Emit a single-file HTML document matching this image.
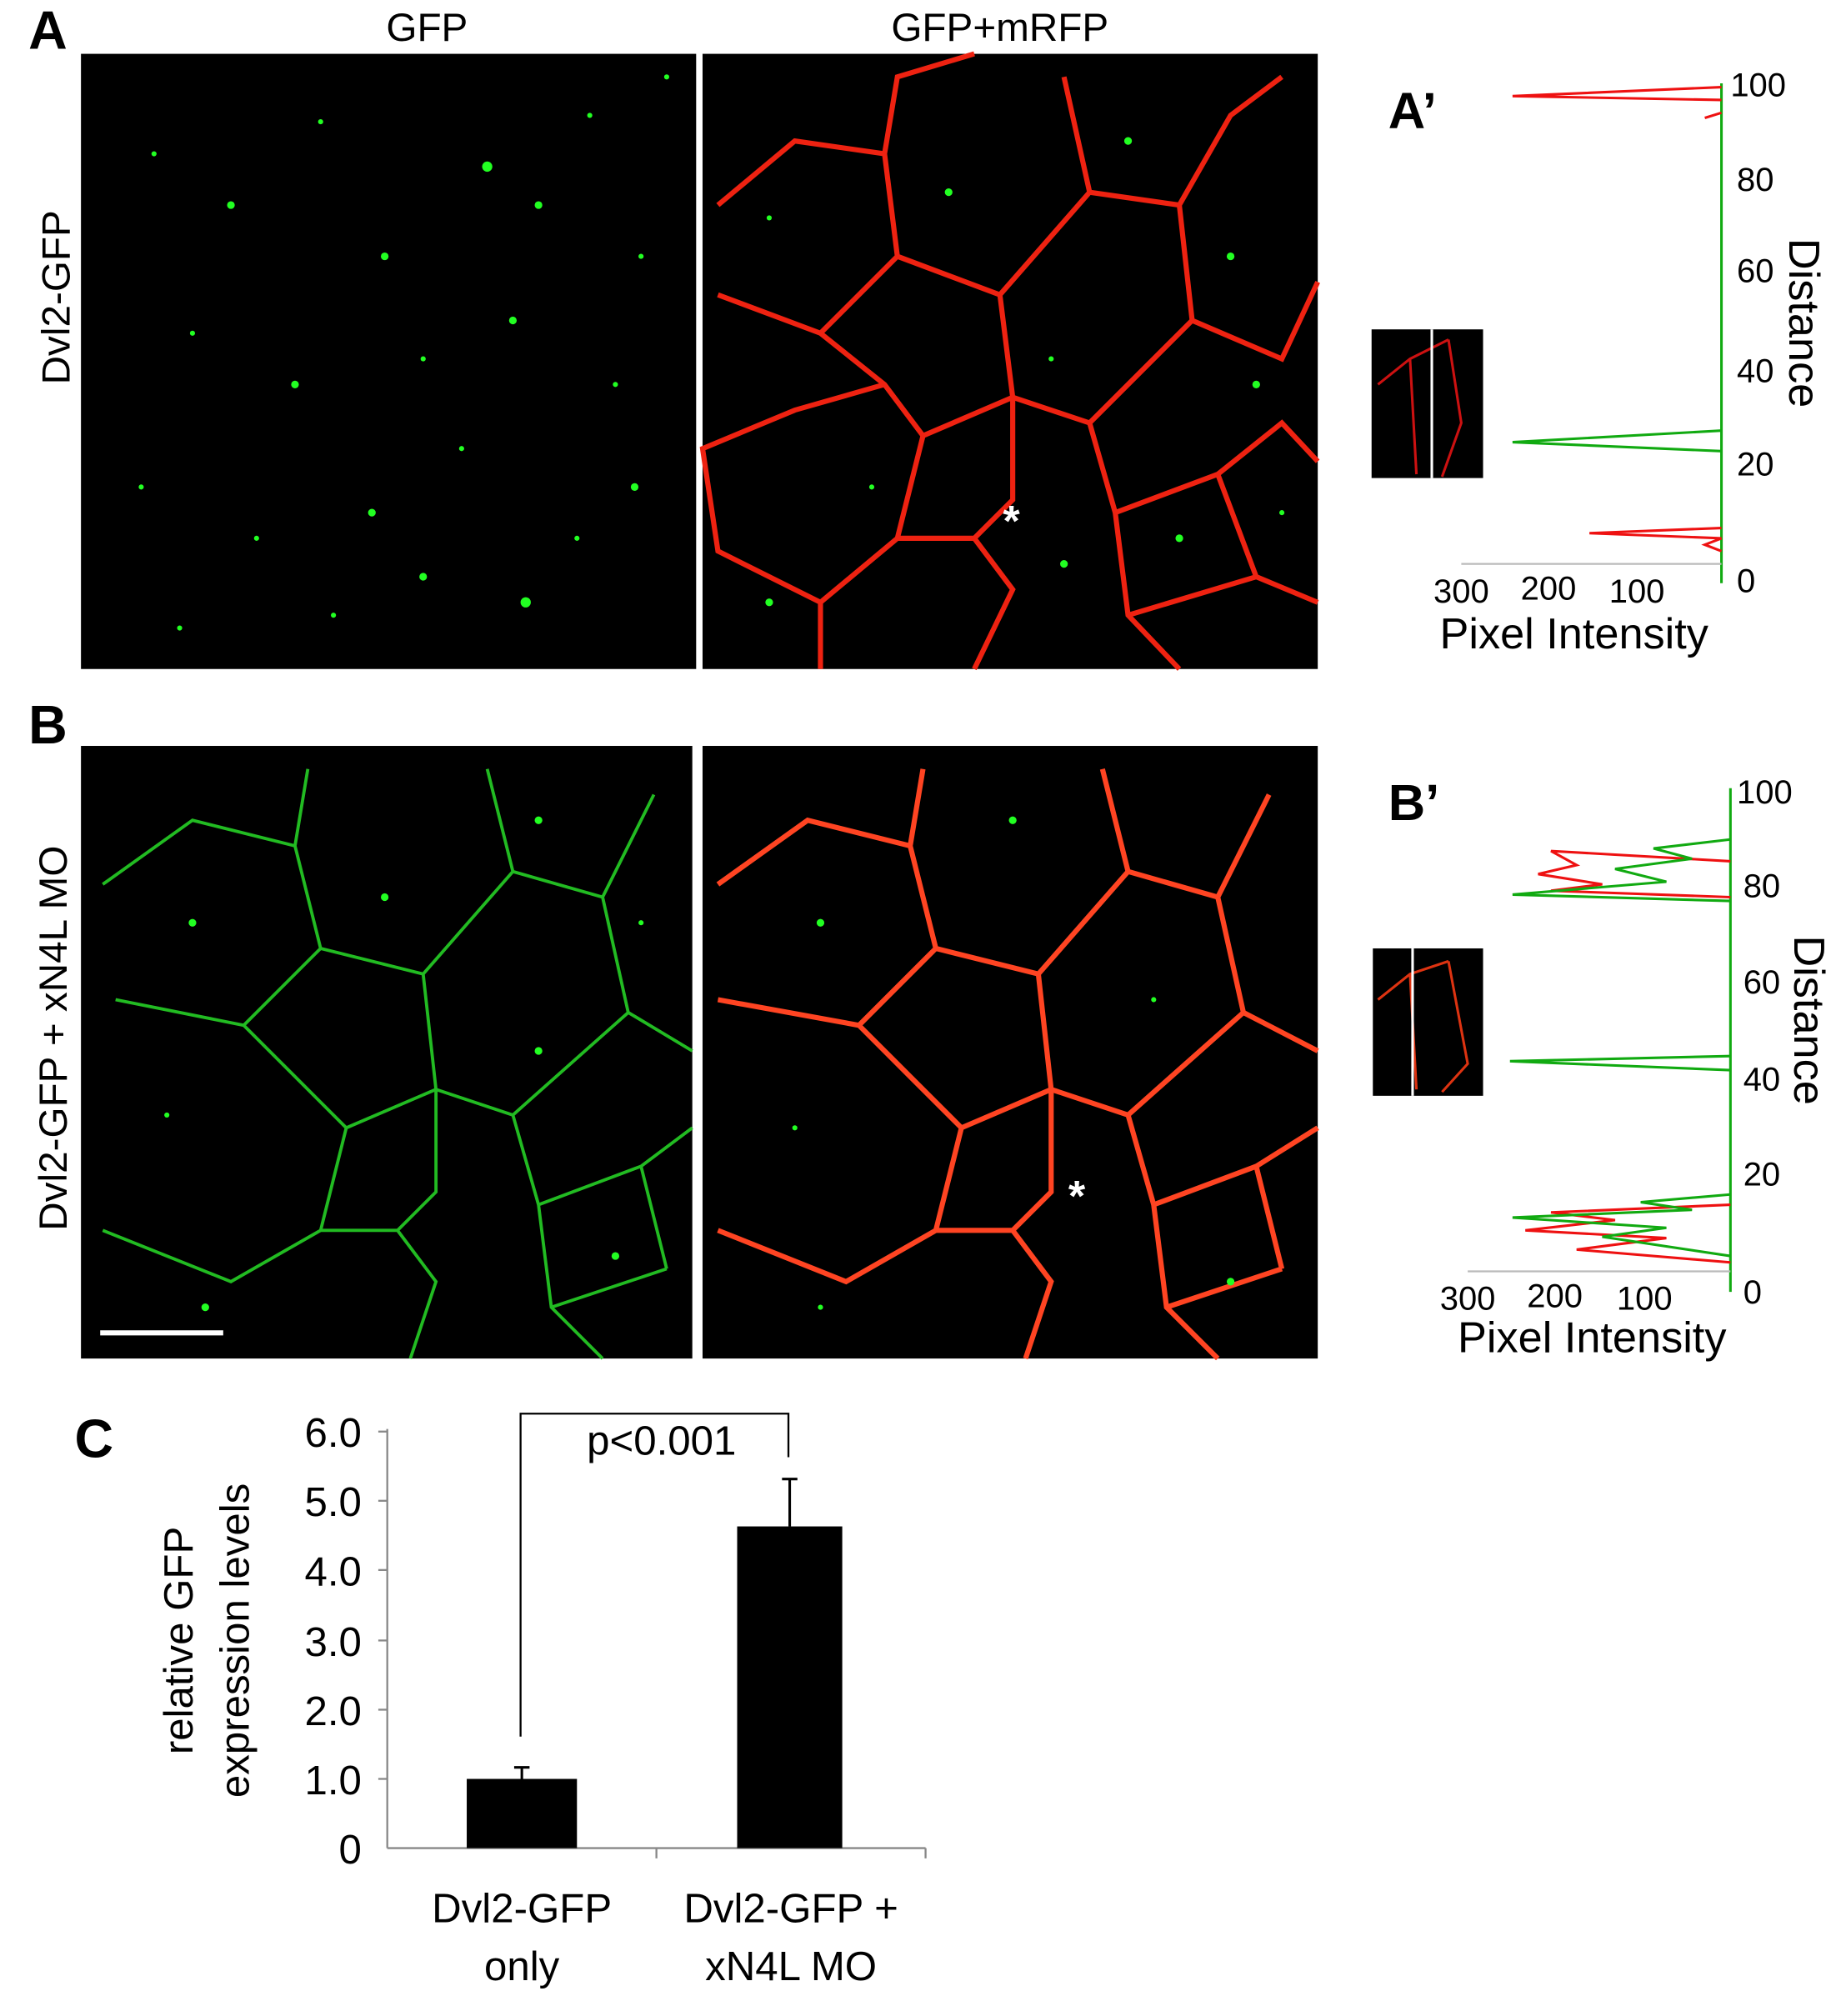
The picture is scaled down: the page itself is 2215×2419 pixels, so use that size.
<!DOCTYPE html>
<html><head><meta charset="utf-8"><style>html,body{margin:0;padding:0;background:#fff}svg{display:block}</style></head>
<body>
<svg width="2215" height="2419" viewBox="0 0 1440 1573" xmlns="http://www.w3.org/2000/svg" font-family="Liberation Sans, sans-serif">
<rect width="1440" height="1573" fill="#fff"/>
<!-- Panel A -->
<text x="22" y="38" font-size="42" font-weight="bold">A</text>
<text x="333" y="32" font-size="31" text-anchor="middle">GFP</text>
<text x="780" y="32" font-size="31" text-anchor="middle">GFP+mRFP</text>
<text transform="translate(54,232) rotate(-90)" font-size="31" text-anchor="middle">Dvl2-GFP</text>
<rect x="63" y="42" width="480" height="480" fill="#000"/>
<rect x="548" y="42" width="480" height="480" fill="#000"/>
<g fill="#2f2">
<circle cx="120" cy="120" r="2"/><circle cx="180" cy="160" r="3"/><circle cx="250" cy="95" r="2"/><circle cx="300" cy="200" r="3"/><circle cx="380" cy="130" r="4"/><circle cx="420" cy="160" r="3"/><circle cx="460" cy="90" r="2"/><circle cx="500" cy="200" r="2"/><circle cx="150" cy="260" r="2"/><circle cx="230" cy="300" r="3"/><circle cx="330" cy="280" r="2"/><circle cx="400" cy="250" r="3"/><circle cx="480" cy="300" r="2"/><circle cx="110" cy="380" r="2"/><circle cx="200" cy="420" r="2"/><circle cx="290" cy="400" r="3"/><circle cx="360" cy="350" r="2"/><circle cx="410" cy="470" r="4"/><circle cx="495" cy="380" r="3"/><circle cx="140" cy="490" r="2"/><circle cx="260" cy="480" r="2"/><circle cx="330" cy="450" r="3"/><circle cx="450" cy="420" r="2"/><circle cx="520" cy="60" r="2"/>
</g>
<g stroke="#e21" stroke-width="4" fill="none">
<path d="M560,160 L620,110 L690,120 L700,60 L760,42 M690,120 L700,200 L640,260 L560,230 M700,200 L780,230 L850,150 L830,60 M850,150 L920,160 L960,90 L1000,60 M920,160 L930,250 L1000,280 L1028,220 M780,230 L790,310 L720,340 L690,300 L640,260 M790,310 L850,330 L930,250 M720,340 L700,420 L640,470 L560,430 L548,350 L620,320 L690,300 M700,420 L760,420 L790,390 L790,310 M760,420 L790,460 L760,522 M850,330 L870,400 L880,480 L920,522 M870,400 L950,370 L1000,330 L1028,360 M950,370 L980,450 L1028,470 M880,480 L980,450 M640,470 L640,522"/>
</g>
<g fill="#2f2"><circle cx="600" cy="170" r="2"/><circle cx="740" cy="150" r="3"/><circle cx="880" cy="110" r="3"/><circle cx="960" cy="200" r="3"/><circle cx="820" cy="280" r="2"/><circle cx="680" cy="380" r="2"/><circle cx="600" cy="470" r="3"/><circle cx="830" cy="440" r="3"/><circle cx="920" cy="420" r="3"/><circle cx="1000" cy="400" r="2"/><circle cx="980" cy="300" r="3"/></g>
<text x="789" y="418" font-size="34" fill="#fff" font-weight="bold" text-anchor="middle">*</text>
<!-- A' -->
<text x="1083" y="100" font-size="40" font-weight="bold">A’</text>
<line x1="1343" y1="65" x2="1343" y2="455" stroke="#1a1" stroke-width="2"/>
<line x1="1140" y1="440" x2="1343" y2="440" stroke="#bbb" stroke-width="1.5"/>
<g font-size="26" text-anchor="start"><text x="1350" y="75">100</text><text x="1355" y="149">80</text><text x="1355" y="220">60</text><text x="1355" y="298">40</text><text x="1355" y="371">20</text><text x="1355" y="462">0</text></g>
<g font-size="26" text-anchor="middle"><text x="1140" y="470">300</text><text x="1208" y="468">200</text><text x="1277" y="470">100</text></g>
<text x="1228" y="506" font-size="34" text-anchor="middle">Pixel Intensity</text>
<text transform="translate(1396,252) rotate(90)" font-size="34" text-anchor="middle">Distance</text>
<path d="M1343,68 L1180,75 L1343,78 M1343,88 L1330,92" stroke="#e11" stroke-width="2" fill="none"/>
<path d="M1343,336 L1180,345 L1343,352" stroke="#1a1" stroke-width="2" fill="none"/>
<path d="M1343,412 L1240,416 L1343,420 L1330,425 L1343,430" stroke="#e11" stroke-width="2" fill="none"/>
<rect x="1070" y="257" width="87" height="116" fill="#000"/>
<path d="M1075,300 L1100,280 L1130,265 M1100,280 L1105,370 M1130,265 L1140,330 L1125,372" stroke="#c11" stroke-width="2" fill="none"/>
<line x1="1117" y1="257" x2="1117" y2="373" stroke="#fff" stroke-width="2"/>
<!-- Panel B -->
<text x="22" y="580" font-size="42" font-weight="bold">B</text>
<text transform="translate(52,810) rotate(-90)" font-size="31" text-anchor="middle">Dvl2-GFP + xN4L MO</text>
<rect x="63" y="582" width="477" height="478" fill="#000"/>
<rect x="548" y="582" width="480" height="478" fill="#000"/>
<g stroke="#2b2" stroke-width="2.5" fill="none">
<path d="M80,690 L150,640 L230,660 L240,600 M230,660 L250,740 L190,800 L90,780 M250,740 L330,760 L400,680 L380,600 M400,680 L470,700 L510,620 M470,700 L490,790 L540,820 M330,760 L340,850 L270,880 L230,840 L190,800 M340,850 L400,870 L490,790 M270,880 L250,960 L180,1000 L80,960 M250,960 L310,960 L340,930 L340,850 M310,960 L340,1000 L320,1060 M400,870 L420,940 L430,1020 L470,1060 M420,940 L500,910 L540,880 M500,910 L520,990 M430,1020 L520,990"/>
</g>
<g stroke="#f42" stroke-width="4" fill="none">
<path d="M560,690 L630,640 L710,660 L720,600 M710,660 L730,740 L670,800 L560,780 M730,740 L810,760 L880,680 L860,600 M880,680 L950,700 L990,620 M950,700 L970,790 L1028,820 M810,760 L820,850 L750,880 L710,840 L670,800 M820,850 L880,870 L970,790 M750,880 L730,960 L660,1000 L560,960 M730,960 L790,960 L820,930 L820,850 M790,960 L820,1000 L800,1060 M880,870 L900,940 L910,1020 L950,1060 M900,940 L980,910 L1028,880 M980,910 L1000,990 M910,1020 L1000,990"/>
</g>
<g fill="#2f2"><circle cx="150" cy="720" r="3"/><circle cx="300" cy="700" r="3"/><circle cx="420" cy="640" r="3"/><circle cx="500" cy="720" r="2"/><circle cx="130" cy="870" r="2"/><circle cx="420" cy="820" r="3"/><circle cx="160" cy="1020" r="3"/><circle cx="480" cy="980" r="3"/><circle cx="640" cy="720" r="3"/><circle cx="790" cy="640" r="3"/><circle cx="900" cy="780" r="2"/><circle cx="620" cy="880" r="2"/><circle cx="960" cy="1000" r="3"/><circle cx="640" cy="1020" r="2"/></g>
<line x1="78" y1="1040" x2="174" y2="1040" stroke="#fff" stroke-width="4"/>
<text x="840" y="945" font-size="34" fill="#fff" font-weight="bold" text-anchor="middle">*</text>
<!-- B' -->
<text x="1083" y="640" font-size="40" font-weight="bold">B’</text>
<line x1="1350" y1="615" x2="1350" y2="1008" stroke="#1a1" stroke-width="2"/>
<line x1="1145" y1="992" x2="1350" y2="992" stroke="#bbb" stroke-width="1.5"/>
<g font-size="26"><text x="1355" y="627">100</text><text x="1360" y="700">80</text><text x="1360" y="775">60</text><text x="1360" y="851">40</text><text x="1360" y="925">20</text><text x="1360" y="1017">0</text></g>
<g font-size="26" text-anchor="middle"><text x="1145" y="1022">300</text><text x="1213" y="1020">200</text><text x="1283" y="1022">100</text></g>
<text x="1242" y="1055" font-size="34" text-anchor="middle">Pixel Intensity</text>
<text transform="translate(1400,796) rotate(90)" font-size="34" text-anchor="middle">Distance</text>
<path d="M1350,672 L1210,664 L1230,675 L1200,682 L1250,690 L1210,695 L1350,700" stroke="#e11" stroke-width="2" fill="none"/>
<path d="M1350,655 L1290,662 L1320,670 L1260,678 L1300,688 L1180,698 L1350,703" stroke="#1a1" stroke-width="2" fill="none"/>
<path d="M1350,824 L1178,828 L1350,835" stroke="#1a1" stroke-width="2" fill="none"/>
<path d="M1350,940 L1210,946 L1260,952 L1190,960 L1300,966 L1230,975 L1350,985" stroke="#e11" stroke-width="2" fill="none"/>
<path d="M1350,932 L1280,938 L1320,944 L1180,950 L1300,958 L1250,965 L1350,980" stroke="#1a1" stroke-width="2" fill="none"/>
<rect x="1071" y="740" width="86" height="115" fill="#000"/>
<path d="M1075,780 L1100,760 L1130,750 M1100,760 L1105,850 M1130,750 L1145,830 L1125,852" stroke="#d31" stroke-width="2" fill="none"/>
<line x1="1102" y1="740" x2="1102" y2="855" stroke="#fff" stroke-width="2"/>
<!-- Panel C -->
<text x="58" y="1137" font-size="42" font-weight="bold">C</text>
<text transform="translate(150,1280) rotate(-90)" font-size="32" text-anchor="middle">relative GFP</text>
<text transform="translate(194,1280) rotate(-90)" font-size="32" text-anchor="middle">expression levels</text>
<line x1="302" y1="1115" x2="302" y2="1442" stroke="#888" stroke-width="1.5"/>
<line x1="302" y1="1442" x2="722" y2="1442" stroke="#888" stroke-width="1.5"/>
<g stroke="#888" stroke-width="1.5"><line x1="295" y1="1117" x2="302" y2="1117"/><line x1="295" y1="1171" x2="302" y2="1171"/><line x1="295" y1="1225" x2="302" y2="1225"/><line x1="295" y1="1280" x2="302" y2="1280"/><line x1="295" y1="1334" x2="302" y2="1334"/><line x1="295" y1="1388" x2="302" y2="1388"/><line x1="512" y1="1442" x2="512" y2="1450"/><line x1="722" y1="1442" x2="722" y2="1450"/></g>
<g font-size="32" text-anchor="end"><text x="282" y="1129">6.0</text><text x="282" y="1183">5.0</text><text x="282" y="1237">4.0</text><text x="282" y="1292">3.0</text><text x="282" y="1346">2.0</text><text x="282" y="1400">1.0</text><text x="282" y="1454">0</text></g>
<rect x="364" y="1388" width="86" height="54" fill="#000"/>
<rect x="575" y="1191" width="82" height="251" fill="#000"/>
<path d="M407,1388 V1379 M401,1379 H413 M616,1191 V1154 M610,1154 H622" stroke="#000" stroke-width="2"/>
<path d="M406,1355 V1103 H615 V1137" stroke="#000" stroke-width="1.5" fill="none"/>
<text x="516" y="1135" font-size="32" text-anchor="middle">p&lt;0.001</text>
<g font-size="32" text-anchor="middle"><text x="407" y="1500">Dvl2-GFP</text><text x="407" y="1545">only</text><text x="617" y="1500">Dvl2-GFP +</text><text x="617" y="1545">xN4L MO</text></g>
</svg>
</body></html>
